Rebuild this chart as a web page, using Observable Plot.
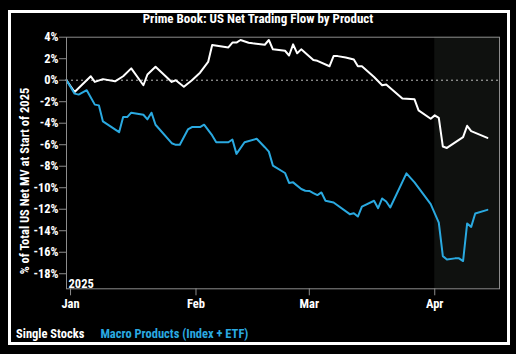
<!DOCTYPE html>
<html><head><meta charset="utf-8">
<script src="https://cdn.jsdelivr.net/npm/d3@7"></script>
<script src="https://cdn.jsdelivr.net/npm/@observablehq/plot@0.6"></script>
<style>
html,body{margin:0;padding:0;background:#000;width:516px;height:354px;overflow:hidden;}
body{font-family:"Roboto Condensed","Liberation Sans Narrow","DejaVu Sans Condensed",Roboto,sans-serif;font-stretch:condensed;font-weight:bold;color:#fff;}
#frame{position:absolute;left:8px;top:10px;width:496px;height:329px;border:3px solid #fff;background:#000;}
#title{position:absolute;left:0;width:516px;top:10px;text-align:center;font-size:13px;line-height:18px;}
#chart{position:absolute;left:0;top:26px;}
#legend{position:absolute;left:16px;top:325px;font-size:12.5px;line-height:18px;white-space:nowrap;}
#legend .m{color:#2aa9e0;margin-left:16px;}
</style></head><body>
<div id="frame"></div>
<div id="title">Prime Book: US Net Trading Flow by Product</div>
<div id="chart"></div>
<div id="legend"><span class="s">Single Stocks</span><span class="m">Macro Products (Index + ETF)</span></div>
<script>
const stockDates = ["2024-12-31","2025-01-02","2025-01-06","2025-01-07","2025-01-09","2025-01-12","2025-01-14","2025-01-16","2025-01-19","2025-01-20","2025-01-22","2025-01-26","2025-01-27","2025-01-29","2025-01-31","2025-02-02","2025-02-04","2025-02-05","2025-02-09","2025-02-10","2025-02-11","2025-02-12","2025-02-14","2025-02-15","2025-02-18","2025-02-19","2025-02-20","2025-02-23","2025-02-24","2025-02-25","2025-02-26","2025-02-27","2025-03-02","2025-03-03","2025-03-06","2025-03-07","2025-03-08","2025-03-10","2025-03-12","2025-03-13","2025-03-14","2025-03-17","2025-03-19","2025-03-20","2025-03-24","2025-03-27","2025-03-28","2025-03-31","2025-04-01","2025-04-02","2025-04-03","2025-04-04","2025-04-08","2025-04-09","2025-04-10","2025-04-14"];
const stockValues = [0,-1.1,0.37,-0.16,0.1,-0.1,0.37,1.1,-0.47,0.53,1.25,-0.16,0,-0.6,0,0.7,1.7,3.27,3.05,3.5,3.5,3.74,3.49,3.43,3.3,3.74,2.87,2.74,2.3,3.33,2.5,2.87,1.87,1.8,1.3,2.24,2.24,2.12,1.93,1.3,1.3,0.3,-0.47,-0.4,-1.71,-1.78,-2.8,-3.58,-3.27,-3.5,-6.17,-6.3,-5.3,-4.24,-4.74,-5.36];
const macroDates = ["2024-12-31","2025-01-02","2025-01-03","2025-01-05","2025-01-07","2025-01-08","2025-01-09","2025-01-13","2025-01-14","2025-01-15","2025-01-16","2025-01-19","2025-01-20","2025-01-21","2025-01-22","2025-01-26","2025-01-27","2025-01-28","2025-01-30","2025-01-31","2025-02-02","2025-02-03","2025-02-05","2025-02-06","2025-02-09","2025-02-10","2025-02-11","2025-02-13","2025-02-16","2025-02-18","2025-02-19","2025-02-20","2025-02-23","2025-02-24","2025-02-25","2025-02-27","2025-02-28","2025-03-01","2025-03-02","2025-03-03","2025-03-04","2025-03-05","2025-03-07","2025-03-11","2025-03-12","2025-03-13","2025-03-14","2025-03-17","2025-03-18","2025-03-19","2025-03-20","2025-03-21","2025-03-25","2025-03-27","2025-03-31","2025-04-02","2025-04-03","2025-04-04","2025-04-06","2025-04-07","2025-04-08","2025-04-09","2025-04-10","2025-04-11","2025-04-14"];
const macroValues = [0,-1.25,-1.34,-0.93,-2.27,-2.34,-3.83,-4.83,-3.43,-3.43,-3.02,-3.21,-3.64,-3.02,-4.14,-5.86,-6.01,-6.01,-4.58,-4.36,-4.36,-4.14,-5.14,-5.77,-5.77,-5.51,-6.85,-5.77,-5.45,-6.23,-6.64,-7.94,-8.63,-9.56,-9.5,-10.12,-10.28,-10.3,-10.5,-10.68,-10.44,-11.21,-11.37,-12.46,-12.37,-12.68,-11.75,-11.21,-11.9,-11.0,-11.28,-11.84,-8.66,-9.5,-11.53,-13.24,-16.36,-16.67,-16.57,-16.57,-16.82,-13.33,-13.64,-12.4,-12.06];
const yTicks = [-18,-16,-14,-12,-10,-8,-6,-4,-2,0,2,4];
const xTickDates = ["2025-01-01","2025-02-01","2025-03-01","2025-04-01"];
const xTickLabels = ["Jan","Feb","Mar","Apr"];
const xDomain = ["2024-12-31","2025-04-17"];
const yDomain = [-19.4, 4];
const shade = [{start:"2025-04-01", end:"2025-04-17"}];
const yLabel = "% of Total US Net MV at Start of 2025";
const yearNote = "2025";

const parse = d3.utcParse("%Y-%m-%d");
const stock = stockDates.map((d,i)=>({date:parse(d), value:stockValues[i]}));
const macro = macroDates.map((d,i)=>({date:parse(d), value:macroValues[i]}));
const font = '"Roboto Condensed","Liberation Sans Narrow","DejaVu Sans Condensed",Roboto,sans-serif';

const chart = Plot.plot({
  width: 516, height: 290,
  marginTop: 10.7, marginBottom: 27.7, marginLeft: 66, marginRight: 17,
  style: {background:"transparent", color:"#fff", fontFamily: font, fontSize:"12px", fontWeight:"bold", fontStretch:"condensed"},
  x: {type:"utc", domain: xDomain.map(parse)},
  y: {domain: yDomain},
  marks: [
    Plot.rect(shade, {x1: d=>parse(d.start), x2: d=>parse(d.end), fill:"#0f110f"}),
    Plot.ruleY([0], {stroke:"#bbbbbb", strokeWidth:1, strokeDasharray:"2,3"}),
    Plot.line(stock, {x:"date", y:"value", stroke:"#ffffff", strokeWidth:2}),
    Plot.line(macro, {x:"date", y:"value", stroke:"#2aa9e0", strokeWidth:2}),
    Plot.frame({stroke:"#8c8c8c"}),
    Plot.axisY({ticks: yTicks, tickFormat: d=>`${d}%`, tickSize:7, tickPadding:1, stroke:"#8c8c8c", fill:"#fff", label:null, fontSize:12.5}),
    Plot.axisX({ticks: xTickDates.map(parse), tickFormat: (d,i)=>xTickLabels[i], tickSize:7, tickPadding:3, stroke:"#8c8c8c", fill:"#fff", label:null, fontSize:12.5}),
    Plot.text([yLabel], {frameAnchor:"left", text:d=>d, textAnchor:"middle", lineAnchor:"middle", rotate:-90, dx:-42, dy:18, fill:"#fff", fontSize:12.5}),
    Plot.text([yearNote], {frameAnchor:"bottom-left", text:d=>d, textAnchor:"start", lineAnchor:"bottom", dx:2, dy:-1, fill:"#fff", fontSize:12.5})
  ]
});
document.getElementById("chart").appendChild(chart);
</script>
</body></html>
